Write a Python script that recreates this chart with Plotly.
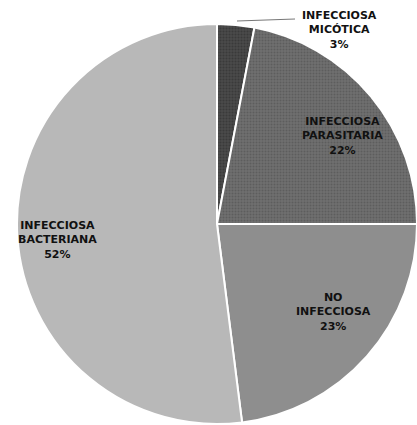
import plotly.graph_objects as go

# Distribución de causas (porcentaje)
categorias = ["INFECCIOSA MICÓTICA", "INFECCIOSA PARASITARIA", "NO INFECCIOSA", "INFECCIOSA BACTERIANA"]
etiquetas = ["INFECCIOSA<br>MICÓTICA", "INFECCIOSA<br>PARASITARIA", "NO<br>INFECCIOSA", "INFECCIOSA<br>BACTERIANA"]
porcentajes = [3, 22, 23, 52]

colores = ["#4a4a4a", "#707070", "#8e8e8e", "#b8b8b8"]
trama_fg = ["#2a2a2a", "#4a4a4a", "#8e8e8e", "#b8b8b8"]
trama_forma = [".", ".", "", ""]

W, H = 417, 425
cx, cy, r = 217, 224, 200  # pixel centre and radius of the pie

fig = go.Figure(go.Pie(
    labels=categorias,
    values=porcentajes,
    sort=False,
    direction="clockwise",
    rotation=0,
    textinfo="none",
    hoverinfo="label+percent",
    marker=dict(
        colors=colores,
        line=dict(color="white", width=2),
        pattern=dict(shape=trama_forma, fgcolor=trama_fg, size=3, solidity=0.4, fillmode="overlay"),
    ),
    domain=dict(x=[(cx - r) / W, min(1, (cx + r) / W)],
                y=[(H - cy - r) / H, (H - cy + r) / H]),
    showlegend=False,
))

# label centres in pixels
pos = [(339, 30), (342, 136), (333, 312), (57, 240)]
for etq, val, (px, py) in zip(etiquetas, porcentajes, pos):
    fig.add_annotation(
        x=px / W, y=1 - py / H, xref="paper", yref="paper",
        text=f"<b>{etq}<br>{val}%</b>", showarrow=False,
        xanchor="center", yanchor="middle", align="center",
        font=dict(family="DejaVu Sans", size=11, color="#111111"),
    )

# leader line for the smallest slice
fig.add_shape(type="line", xref="paper", yref="paper",
              x0=237 / W, y0=1 - 21 / H, x1=295 / W, y1=1 - 19 / H,
              line=dict(color="#777777", width=1))

fig.update_layout(
    width=W, height=H,
    margin=dict(l=0, r=0, t=0, b=0),
    paper_bgcolor="white",
    plot_bgcolor="white",
)

fig.write_html("out.html")
